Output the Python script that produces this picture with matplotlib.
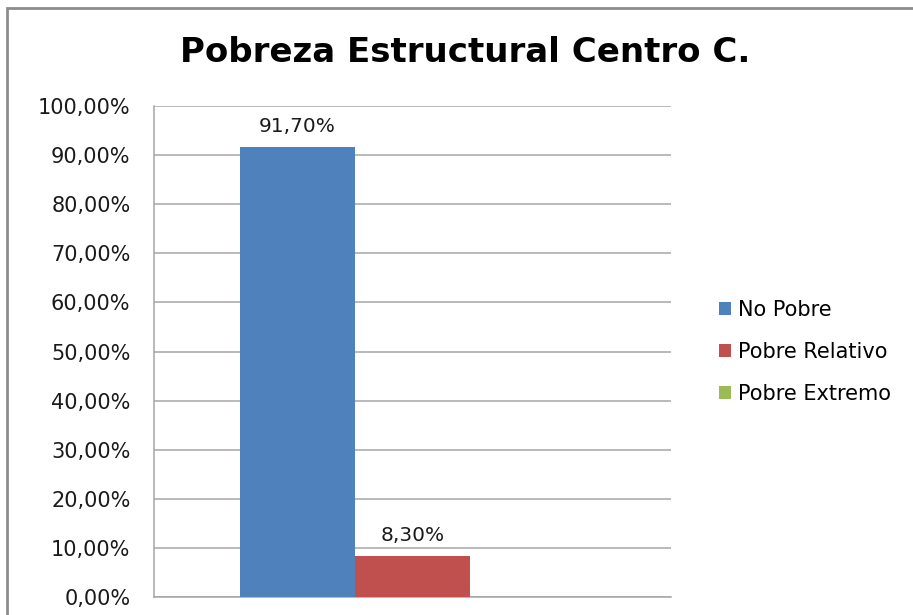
import matplotlib
matplotlib.use("Agg")
import matplotlib.pyplot as plt
from matplotlib.patches import Rectangle
from matplotlib.ticker import FuncFormatter, MultipleLocator

title = "Pobreza Estructural Centro C."
series_names = ["No Pobre", "Pobre Relativo", "Pobre Extremo"]
series_values = [91.70, 8.30, 0.0]
series_colors = ["#4F81BD", "#C0504D", "#9BBB59"]
label_series = [0, 1]  # only these bars carry a data label

# the reference text is wide (stretched Calibri); DejaVu Sans is the closest in width
plt.rcParams["font.family"] = ["DejaVu Sans"]

fig = plt.figure(figsize=(9.13, 6.15), dpi=100, facecolor="white")
ax = fig.add_axes([154 / 913, 1 - 597 / 615, (671 - 154) / 913, (597 - 106) / 615])

# chart frame (cut off at the right and bottom in the reference)
fig.patches.append(Rectangle((7 / 913, -0.05), 1.1, 1 - 8 / 615 + 0.05,
                             transform=fig.transFigure, fill=False,
                             edgecolor="#8C8C8C", linewidth=2.0, zorder=0))

offsets = [-1, 0, 1]
handles = []
for i, (name, val, col) in enumerate(zip(series_names, series_values, series_colors)):
    b = ax.bar(offsets[i], val, width=1.0, color=col, label=name, zorder=3)
    handles.append(b)
    if i in label_series:
        ax.annotate(f"{val:.2f}%".replace(".", ","), (offsets[i], val),
                    xytext=(0, 8), textcoords="offset points",
                    ha="center", va="bottom", fontsize=14.5, color="#1a1a1a")

ax.set_xlim(-2.25, 2.25)
ax.set_ylim(0, 100)
ax.yaxis.set_major_locator(MultipleLocator(10))
ax.yaxis.set_major_formatter(FuncFormatter(lambda v, p: f"{v:.2f}%".replace(".", ",")))
ax.tick_params(axis="y", length=0, pad=17, labelsize=15, labelcolor="#1a1a1a")
ax.set_xticks([])
ax.grid(axis="y", color="#A6A6A6", linewidth=1.1, zorder=0)
for s in ["top", "right"]:
    ax.spines[s].set_visible(False)
for s in ["left", "bottom"]:
    ax.spines[s].set_color("#A6A6A6")
    ax.spines[s].set_linewidth(1.1)

fig.text(465 / 913, 1 - 53 / 615, title, ha="center", va="center",
         fontsize=24.5, fontweight="bold", color="black")

fig.legend(handles=handles, labels=series_names, loc="center left",
           bbox_to_anchor=(709 / 913, 1 - 352 / 615), frameon=False,
           fontsize=15, handlelength=0.55, handleheight=0.55,
           handletextpad=0.35, labelspacing=1.05, borderpad=0)

fig.savefig("out.png", dpi=100, facecolor="white")
